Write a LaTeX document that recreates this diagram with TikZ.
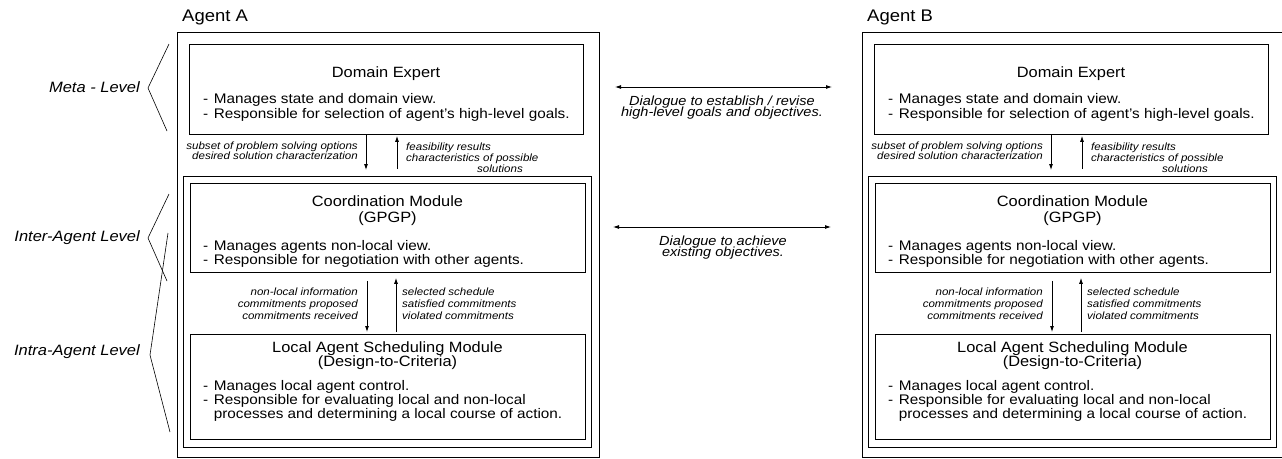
\documentclass[tikz,border=0pt]{standalone}
\usepackage{fontspec}
\setmainfont[FakeStretch=1.1]{Liberation Sans}
\usetikzlibrary{arrows.meta}
\newcommand\tightlines{\lineskiplimit=-100pt\relax}
\begin{document}
\begin{tikzpicture}[x=1pt,y=-1pt,
  outerbox/.style={draw, line width=1.1pt, inner sep=0pt, anchor=north west},
  modbox/.style={draw, line width=0.9pt, inner sep=0pt, anchor=north west},
  agentlbl/.style={font=\fontsize{16.8}{18}\selectfont, anchor=west, inner sep=0pt},
  titlelbl/.style={font=\tightlines\fontsize{14.9}{15}\selectfont, align=center, inner sep=0pt},
  bullets/.style={font=\fontsize{13.9}{14.5}\selectfont, anchor=west, inner sep=0pt},
  flowlbl/.style={font=\tightlines\itshape\fontsize{10.5}{11}\selectfont, inner sep=0pt},
  levellbl/.style={font=\itshape\fontsize{15}{16}\selectfont, anchor=east, inner sep=0pt},
  dialbl/.style={font=\tightlines\itshape\fontsize{13.2}{11}\selectfont, align=center, inner sep=0pt},
  arr/.style={line width=0.8pt, -{Latex[length=6pt,width=4pt]}},
  darr/.style={line width=0.8pt, {Latex[length=6pt,width=4pt]}-{Latex[length=6pt,width=4pt]}},
  brace/.style={line width=0.6pt},
]
\useasboundingbox (0,0) rectangle (1282,458);

\foreach \ag/\dx in {A/0,B/685}{
  \begin{scope}[xshift=\dx pt]
  \node[agentlbl] (lbl\ag) at (182,17.5) {Agent \ag};
  \node[outerbox, minimum width=422pt, minimum height=424.5pt] (out\ag) at (177,32) {};
  \node[modbox, minimum width=394pt, minimum height=90pt] (de\ag) at (189,44) {};
  \node[modbox, minimum width=408pt, minimum height=271pt] (ct\ag) at (183,176) {};
  \node[modbox, minimum width=395pt, minimum height=89pt] (cm\ag) at (190,183) {};
  \node[modbox, minimum width=395pt, minimum height=105pt] (ls\ag) at (190,334) {};
  % texts
  \node[titlelbl] (det\ag) at (386,74) {Domain Expert};
  \node[bullets, font=\fontsize{13.9}{15}\selectfont] (deb\ag) at (203,107.5) {\begin{tabular}{@{}l@{\hspace{5.5pt}}l@{}}-&Manages state and domain view.\\-&Responsible for selection of agent's high-level goals.\end{tabular}};
  \node[titlelbl, font=\tightlines\fontsize{14.9}{16}\selectfont] (cmt\ag) at (387.5,210.5) {Coordination Module\\(GPGP)};
  \node[bullets] (cmb\ag) at (203,254.5) {\begin{tabular}{@{}l@{\hspace{5.5pt}}l@{}}-&Manages agents non-local view.\\-&Responsible for negotiation with other agents.\end{tabular}};
  \node[titlelbl, font=\tightlines\fontsize{14.9}{14}\selectfont] (lst\ag) at (387.5,356) {Local Agent Scheduling Module\\(Design-to-Criteria)};
  \node[bullets, font=\fontsize{13.9}{14}\selectfont] (lsb\ag) at (203,401.5) {\begin{tabular}{@{}l@{\hspace{5.5pt}}l@{}}-&Manages local agent control.\\-&Responsible for evaluating local and non-local\\&processes and determining a local course of action.\end{tabular}};
  % flow labels
  \node[flowlbl, anchor=east, align=right, font=\tightlines\itshape\fontsize{10.5}{9.5}\selectfont] (fl1\ag) at (358,150.5) {subset of problem solving options\\desired solution characterization};
  \node[flowlbl, anchor=west, align=left] (fl2\ag) at (406,158) {feasibility results\\characteristics of possible\\\hspace*{71pt}solutions};
  \node[flowlbl, anchor=east, align=right, font=\tightlines\itshape\fontsize{10.5}{12}\selectfont] (fl3\ag) at (358,304) {non-local information\\commitments proposed\\commitments received};
  \node[flowlbl, anchor=west, align=left, font=\tightlines\itshape\fontsize{10.5}{12}\selectfont] (fl4\ag) at (402,304) {selected schedule\\satisfied commitments\\violated commitments};
  % arrow x positions
  \coordinate (xa\ag) at (366,0);
  \coordinate (xb\ag) at (397,0);
  \coordinate (xc\ag) at (367,0);
  \coordinate (xd\ag) at (396,0);
  \draw[arr, shorten >=6pt] (de\ag.south -| xa\ag) -- (ct\ag.north -| xa\ag);
  \draw[arr, shorten <=7pt, shorten >=1pt] (ct\ag.north -| xb\ag) -- (de\ag.south -| xb\ag);
  \draw[arr, shorten <=8pt, shorten >=2pt] (cm\ag.south -| xc\ag) -- (ls\ag.north -| xc\ag);
  \draw[arr, shorten <=2pt, shorten >=5pt] (ls\ag.north -| xd\ag) -- (cm\ag.south -| xd\ag);
  \end{scope}
}

% level labels and braces
\node[levellbl] (meta) at (140,87) {Meta - Level};
\node[levellbl] (inter) at (140,238) {Inter-Agent Level};
\node[levellbl] (intra) at (140,352) {Intra-Agent Level};
\draw[brace] (169,44) -- (148,88) -- (167,131);
\draw[brace] (169,194) -- (148,238) -- (167,281);
\draw[brace] (168,233) -- (150,355) -- (170,432);

% dialogues
\coordinate (d1l) at (615,87);
\coordinate (d1r) at (832,87);
\coordinate (d2l) at (613,227);
\coordinate (d2r) at (831,227);
\draw[darr] (d1l) -- (d1r);
\draw[darr] (d2l) -- (d2r);
\node[dialbl] (dl1) at (722,108) {Dialogue to establish / revise\\high-level goals and objectives.};
\node[dialbl] (dl2) at (723,248) {Dialogue to achieve\\existing objectives.};
\end{tikzpicture}
\end{document}
